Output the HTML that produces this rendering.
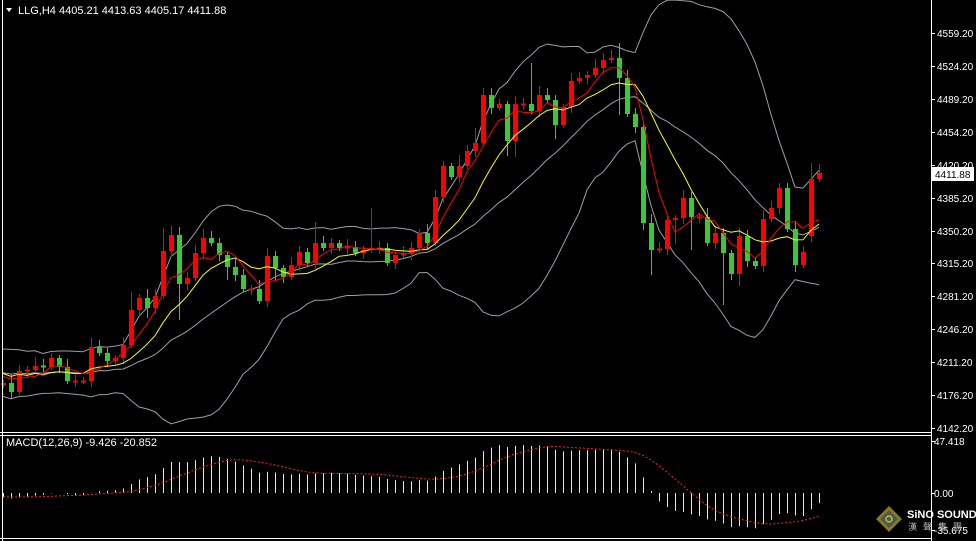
<!DOCTYPE html>
<html><head><meta charset="utf-8">
<style>
html,body{margin:0;padding:0;background:#000;}
svg{display:block;font-family:"Liberation Sans",Tahoma,sans-serif;}
</style></head>
<body>
<svg id="s" width="976" height="541" viewBox="0 0 976 541" xmlns="http://www.w3.org/2000/svg">
<rect width="976" height="541" fill="#000"/>
</svg>
<script>
(function(){
var S=document.getElementById('s'),NS='http://www.w3.org/2000/svg';
function el(t,a,txt){var e=document.createElementNS(NS,t);for(var k in a)e.setAttribute(k,a[k]);if(txt!=null)e.textContent=txt;S.appendChild(e);return e;}
var C=[383,392,371,370,366,367,358,367,381,381,381,347,353,361,358,345,310,298,308,296,251,235,284,278,253,238,243,255,267,275,289,289,301,256,268,277,265,252,263,243,248,243,248,247,253,250,248,248,263,255,254,248,233,243,197,166,177,166,151,143,95,108,104,141,104,104,111,95,100,125,107,81,78,75,68,60,58,78,114,127,223,250,249,220,218,198,217,217,243,233,253,274,236,261,266,219,208,188,229,265,252,179,173];
var O={0:385,101:236,102:179,88:217};
var HI={16:292,20:228,46:208,60:88,66:63,77:43,101:163,98:183,76:50,24:245,39:222,59:128,57:155,21:226,33:248};
var LO={22:320,90:305,81:275,63:156,64:157,69:139,77:115,99:272,28:280,1:398,34:280,18:318,86:250,84:244,92:286,80:230};
var W=[];for(var i=0;i<25;i++)W.push(372+((i*7)%5-2)*6+(i%2?8:-8));
var ALL=W.concat(C),off=W.length;
function X(i){return 3+8*i;}
function sma(a,n,i){var s=0;for(var k=i-n+1;k<=i;k++)s+=a[k];return s/n;}
var up=[],mid=[],lo=[],r5=[],y10=[];
for(var i=0;i<C.length;i++){var j=i+off,m=sma(ALL,20,j),v=0;for(var k=j-19;k<=j;k++)v+=(ALL[k]-m)*(ALL[k]-m);var sd=Math.sqrt(v/20);
 mid.push([X(i),m]);up.push([X(i),m-2*sd]);lo.push([X(i),m+2*sd]);r5.push([X(i),sma(ALL,5,j)]);y10.push([X(i),sma(ALL,10,j)]);}
function pl(p,c,w,extra){var d=p.map(function(q,i){return (i?'L':'M')+q[0]+' '+Math.max(0,q[1]).toFixed(1);}).join('');var a={d:d,fill:'none',stroke:c,'stroke-width':w};for(var k in extra)a[k]=extra[k];el('path',a);}
el('clipPath',{id:'mc'}).appendChild(document.createElementNS(NS,'rect'));
var g=document.querySelector('#mc rect');g.setAttribute('x',3);g.setAttribute('y',0);g.setAttribute('width',928);g.setAttribute('height',431);
var bc='#9aa0a8';
pl(up,bc,1,{'clip-path':'url(#mc)'});pl(mid,bc,1);pl(lo,bc,1,{'clip-path':'url(#mc)'});
for(var i=0;i<C.length;i++){var o=(O[i]!=null)?O[i]:(i?C[i-1]:385),c=C[i],x=X(i);
 var top=Math.min(o,c),bot=Math.max(o,c);var h=HI[i]!=null?HI[i]:top-3-(i*5%7),l=LO[i]!=null?LO[i]:bot+3+(i*3%6);
 var col=c<o?'#ff0000':(c>o?'#33cc33':'#ff0000');
 el('line',{x1:x+.5,x2:x+.5,y1:h,y2:l,stroke:col,'stroke-width':1});
 if(bot-top<1.5)el('rect',{x:x-2,y:top-0.5,width:5,height:2,fill:col});
 else el('rect',{x:x-2,y:top,width:5,height:bot-top,fill:col});}
pl(y10,'#ffff00',1);pl(r5,'#ff0000',1);
function toP(y){return 4559.2-(y-33)/0.9472;}
var P=ALL.map(toP),e12=P[0],e26=P[0],M=[];
for(var j=0;j<P.length;j++){e12+= (P[j]-e12)*2/13;e26+=(P[j]-e26)*2/27;M.push(e12-e26);}
var sc=52/47.418;
for(var i=0;i<C.length;i++){var v=M[i+off],x=X(i)+.5,y=493-v*sc;el('line',{x1:x,x2:x,y1:493,y2:Math.max(440,Math.min(532,y)),stroke:'#e8e8e8','stroke-width':1});}
var sig=[];for(var i=0;i<C.length;i++){sig.push([X(i),493-sma(M,9,i+off)*sc]);}
pl(sig,'#ff2020',1,{'stroke-dasharray':'2,2'});
el('line',{x1:2.5,x2:2.5,y1:0,y2:541,stroke:'#fff'});
el('line',{x1:931.5,x2:931.5,y1:0,y2:541,stroke:'#fff'});
el('line',{x1:0,x2:931,y1:432.5,y2:432.5,stroke:'#fff'});
el('line',{x1:0,x2:931,y1:435.5,y2:435.5,stroke:'#fff'});
el('line',{x1:0,x2:931,y1:538.5,y2:538.5,stroke:'#fff'});
var labs=['4559.20','4524.20','4489.20','4454.20','4420.20','4385.20','4350.20','4315.20','4281.20','4246.20','4211.20','4176.20','4142.20'];
for(var k=0;k<labs.length;k++){var y=Math.round(33+k*32.92);el('line',{x1:931,x2:935,y1:y+.5,y2:y+.5,stroke:'#fff'});el('text',{x:937,y:y+4,fill:'#fff','font-size':10},labs[k]);}
el('rect',{x:932,y:167,width:42,height:14,fill:'#fff'});
el('text',{x:935,y:178,fill:'#000','font-size':10},'4411.88');
[[441,'47.418'],[493,'0.00'],[530,'-35.675']].forEach(function(a){el('line',{x1:931,x2:935,y1:a[0]+.5,y2:a[0]+.5,stroke:'#fff'});el('text',{x:934,y:a[0]+4,fill:'#fff','font-size':10},a[1]);});
el('path',{d:'M6 8L12 8L9 12Z',fill:'#fff'});
el('text',{x:18,y:14,fill:'#fff','font-size':11},'LLG,H4  4405.21 4413.63 4405.17 4411.88');
el('text',{x:6,y:446,fill:'#fff','font-size':11},'MACD(12,26,9) -9.426 -20.852');
el('path',{d:'M889 506L902 519L889 532L876 519Z',fill:'#8a7a20'});
el('path',{d:'M889 510L898 519L889 528L880 519Z',fill:'#555'});
el('circle',{cx:889,cy:519,r:3,fill:'none',stroke:'#9c3','stroke-width':1.5});
el('text',{x:907,y:518,fill:'#fff','font-size':11,'font-weight':'bold'},'SiNO SOUND');
el('text',{x:908,y:530,fill:'#bbb','font-size':9,'font-family':'"Noto Sans CJK TC",sans-serif','letter-spacing':'6'},'漢聲集團');
})();
</script>
</body></html>
